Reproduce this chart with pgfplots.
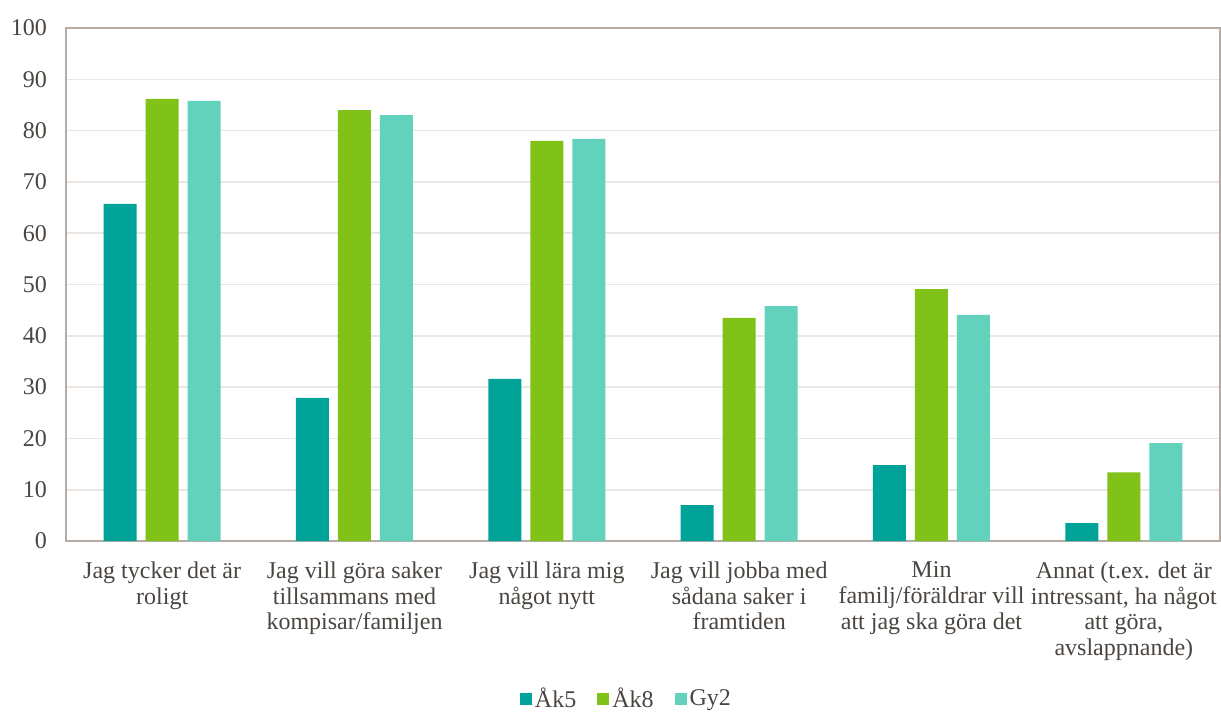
\documentclass[border=0pt]{standalone}
\usepackage{pgfplots}
\pgfplotsset{compat=1.18}
\usepackage{fontspec}
\setmainfont{Liberation Serif}
\definecolor{ak5}{HTML}{00A398}
\definecolor{ak8}{HTML}{80C217}
\definecolor{gy2}{HTML}{62D2BC}
\definecolor{frame}{HTML}{B3ABA4}
\definecolor{gridc}{HTML}{EAE6E4}
\definecolor{txt}{HTML}{4A4540}
\begin{document}
\begin{tikzpicture}
\useasboundingbox (-33pt,-86pt) rectangle (577.5pt,270.5pt);
\begin{axis}[
  at={(0pt,0pt)}, anchor=south west,
  scale only axis,
  width=577pt, height=256.5pt,
  ybar=4.5pt, bar width=16.5pt,
  xmin=-0.5, xmax=5.5,
  ymin=0, ymax=100,
  ytick={0,10,...,100},
  xtick={0,1,2,3,4,5},
  xticklabels={{Jag tycker det är\\roligt},
    {Jag vill göra saker\\tillsammans med\\kompisar/familjen},
    {Jag vill lära mig\\något nytt},
    {Jag vill jobba med\\sådana saker i\\framtiden},
    {Min\\familj/föräldrar vill\\att jag ska göra det},
    {Annat (t.ex. det är\\intressant, ha något\\att göra,\\avslappnande)}},
  xticklabel style={align=center, font=\fontsize{12}{12.8}\selectfont, text=txt, yshift=-7pt},
  yticklabel style={font=\fontsize{12}{13}\selectfont, text=txt, xshift=-6pt},
  /pgf/number format/assume math mode=true,
  major tick length=0pt,
  ymajorgrids, grid style={gridc, line width=0.8pt},
  axis line style={frame, line width=0.8pt},
  axis background/.style={fill=white},
  legend style={at={(0.5,-0.27)}, anchor=north, xshift=-8pt, draw=none, fill=none,
    legend columns=-1, font=\fontsize{12}{13}\selectfont, text=txt,
    /tikz/every odd column/.append style={column sep=0pt},
    /tikz/every even column/.append style={column sep=9pt},
    nodes={inner xsep=1.5pt}},
  legend image code/.code={\fill[#1] (0pt,-3pt) rectangle (6pt,3pt);},
]
\addplot[fill=ak5, draw=none] coordinates {(0,65.7) (1,27.9) (2,31.6) (3,7.0) (4,14.8) (5,3.5)};
\addplot[fill=ak8, draw=none] coordinates {(0,86.2) (1,84.0) (2,78.0) (3,43.5) (4,49.1) (5,13.4)};
\addplot[fill=gy2, draw=none] coordinates {(0,85.8) (1,83.0) (2,78.4) (3,45.8) (4,44.1) (5,19.1)};
\legend{Åk5, Åk8, Gy2}
\end{axis}
\end{tikzpicture}
\end{document}
